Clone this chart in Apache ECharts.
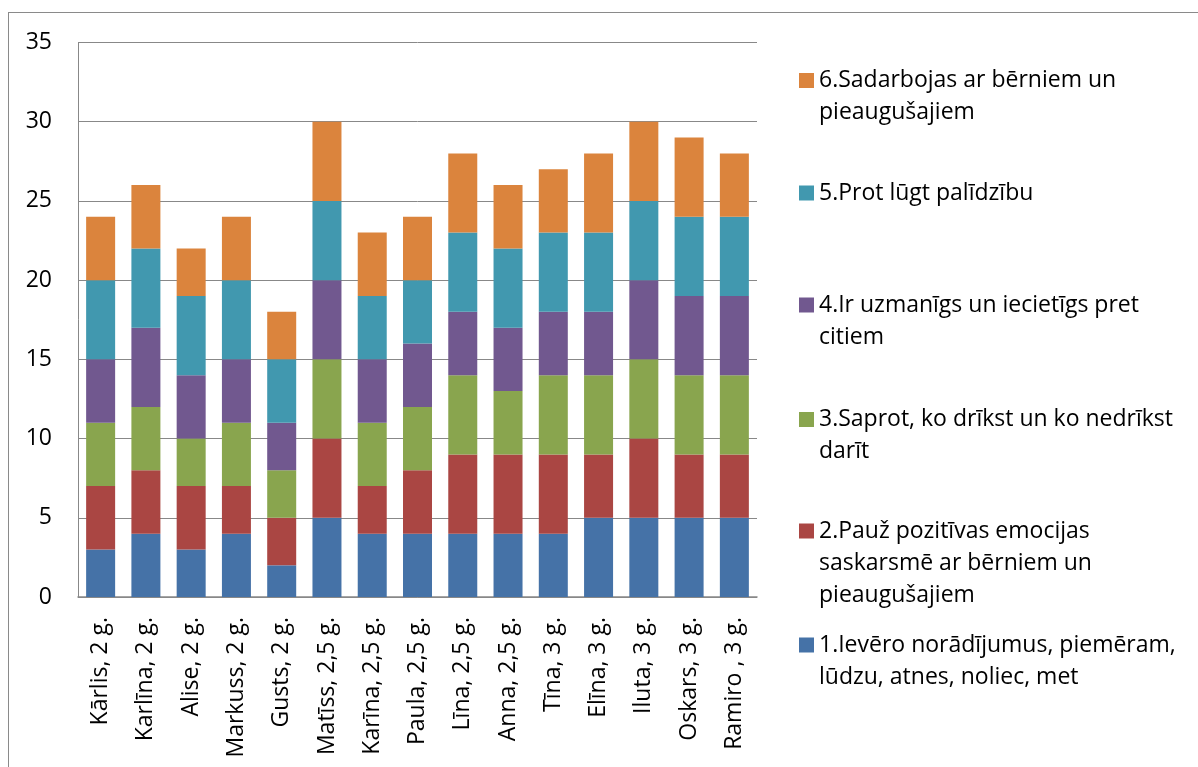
<!DOCTYPE html>
<html>
<head>
<meta charset="utf-8">
<script src="https://cdn.jsdelivr.net/npm/echarts@6/dist/echarts.min.js"></script>
<style>
  html, body { margin: 0; padding: 0; background: #fff; overflow: hidden; }
  #frame { position: absolute; left: 8px; top: 12px; width: 1400px; height: 1000px; border: 1.5px solid #8a8a8a; }
  #chart { position: absolute; left: 0; top: 0; width: 1198px; height: 767px; }
</style>
</head>
<body>
<div id="frame"></div>
<div id="chart"></div>
<script>
// bērnu vārdi un vecums
const categories = [
  'Kārlis, 2 g.', 'Karlīna, 2 g.', 'Alise, 2 g.', 'Markuss, 2 g.', 'Gusts, 2 g.',
  'Matīss, 2,5 g.', 'Karīna, 2,5 g.', 'Paula, 2,5 g.', 'Līna, 2,5 g.', 'Anna, 2,5 g.',
  'Tīna, 3 g.', 'Elīna, 3 g.', 'Iluta, 3 g.', 'Oskars, 3 g.', 'Ramiro , 3 g.'
]

const seriesNames = [
  '1.Ievēro norādījumus, piemēram, lūdzu, atnes, noliec, met',
  '2.Pauž pozitīvas emocijas saskarsmē ar bērniem un pieaugušajiem',
  '3.Saprot, ko drīkst un ko nedrīkst darīt',
  '4.Ir uzmanīgs un iecietīgs pret citiem',
  '5.Prot lūgt palīdzību',
  '6.Sadarbojas ar bērniem un pieaugušajiem'
]

// legend text, wrapped like the original
const legendLabels = [
  '1.Ievēro norādījumus, piemēram,\nlūdzu, atnes, noliec, met',
  '2.Pauž pozitīvas emocijas\nsaskarsmē ar bērniem un\npieaugušajiem',
  '3.Saprot, ko drīkst un ko nedrīkst\ndarīt',
  '4.Ir uzmanīgs un iecietīgs pret\ncitiem',
  '5.Prot lūgt palīdzību',
  '6.Sadarbojas ar bērniem un\npieaugušajiem'
]

const s1 = [3, 4, 3, 4, 2, 5, 4, 4, 4, 4, 4, 5, 5, 5, 5]
const s2 = [4, 4, 4, 3, 3, 5, 3, 4, 5, 5, 5, 4, 5, 4, 4]
const s3 = [4, 4, 3, 4, 3, 5, 4, 4, 5, 4, 5, 5, 5, 5, 5]
const s4 = [4, 5, 4, 4, 3, 5, 4, 4, 4, 4, 4, 4, 5, 5, 5]
const s5 = [5, 5, 5, 5, 4, 5, 4, 4, 5, 5, 5, 5, 5, 5, 5]
const s6 = [4, 4, 3, 4, 3, 5, 4, 4, 5, 4, 4, 5, 5, 5, 4]
const values = [s1, s2, s3, s4, s5, s6]

const colors = ['#4572A7', '#AA4643', '#89A54E', '#71588F', '#4198AF', '#DB843D']

const font = '"Open Sans", "Noto Sans", sans-serif'
const lineH = 32
// icon centre of each legend entry (series 1..6), entries run bottom to top
const legendIconY = [645, 531, 419.5, 305, 193, 80.5]

// echarts centres the text block on the icon, so pad with empty lines on top
// to keep the icon next to the first line
const legends = seriesNames.map((name, i) => {
  const lines = legendLabels[i].split('\n').length
  return {
    orient: 'vertical',
    left: 799,
    top: legendIconY[i] - (2 * lines - 1) * lineH / 2,
    padding: 0,
    icon: 'rect',
    itemWidth: 15,
    itemHeight: 15,
    data: [name],
    formatter: () => '\n'.repeat(lines - 1) + legendLabels[i],
    textStyle: {
      fontFamily: font,
      fontSize: 23,
      lineHeight: lineH,
      color: '#000',
    },
  }
})

const chart = echarts.init(document.getElementById('chart'))

chart.setOption({
  animation: false,
  color: colors,
  legend: legends,
  grid: {
    left: 78,
    top: 42.5,
    right: 441,
    bottom: 170,
  },
  xAxis: {
    type: 'category',
    data: categories,
    axisLine: { lineStyle: { color: '#888', width: 1.5 } },
    axisTick: { show: false },
    axisLabel: {
      rotate: 90,
      interval: 0,
      margin: 20,
      fontFamily: font,
      fontSize: 23,
      color: '#000',
    },
  },
  yAxis: {
    type: 'value',
    min: 0,
    max: 35,
    interval: 5,
    axisLine: { show: true, lineStyle: { color: '#888', width: 1 } },
    axisTick: { show: false },
    splitLine: { lineStyle: { color: '#888', width: 1 } },
    axisLabel: {
      margin: 26,
      fontFamily: font,
      fontSize: 23,
      color: '#000',
    },
  },
  series: seriesNames.map((name, i) => ({
    name: name,
    type: 'bar',
    stack: 'total',
    barWidth: 29,
    data: values[i],
    itemStyle: { color: colors[i] },
    emphasis: { disabled: true },
  })),
})
</script>
</body>
</html>
